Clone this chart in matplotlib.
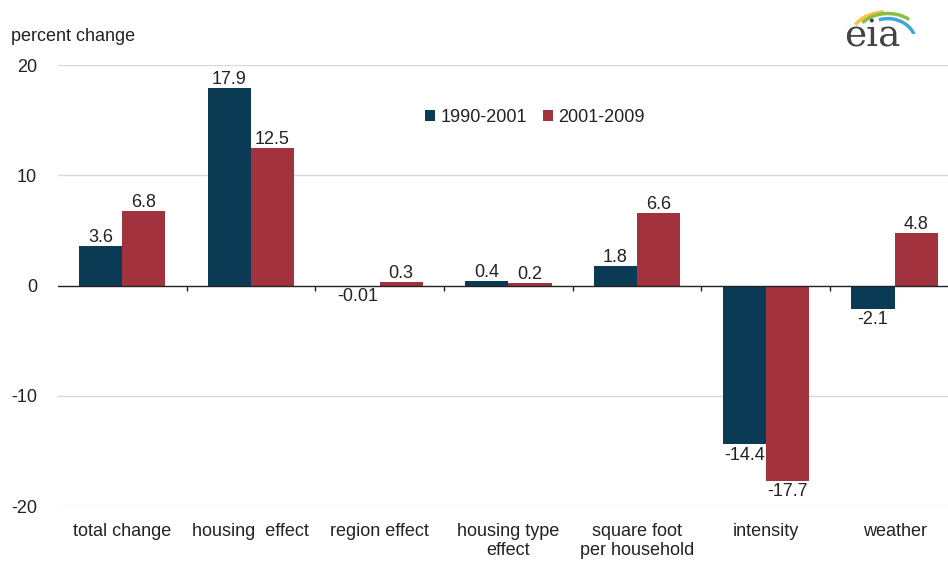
import numpy as np
import matplotlib.pyplot as plt
from matplotlib.patches import Arc

# data
categories = ['total change', 'housing  effect', 'region effect', 'housing type\neffect',
              'square foot\nper household', 'intensity', 'weather']
vals_1990_2001 = [3.6, 17.9, -0.01, 0.4, 1.8, -14.4, -2.1]
vals_2001_2009 = [6.8, 12.5, 0.3, 0.2, 6.6, -17.7, 4.8]
labels_1990_2001 = ['3.6', '17.9', '-0.01', '0.4', '1.8', '-14.4', '-2.1']
labels_2001_2009 = ['6.8', '12.5', '0.3', '0.2', '6.6', '-17.7', '4.8']
yticks = [-20, -10, 0, 10, 20]

blue = '#0b3a55'
red = '#a3323f'
txt = '#222222'
fs = 13

plt.rcParams['font.family'] = ['Liberation Sans', 'DejaVu Sans']

fig = plt.figure(figsize=(9.48, 5.63), dpi=100)
ax = fig.add_axes([0.061, 0.1012, 0.939, 0.7833])

x = np.arange(len(categories))
w = 0.335
b1 = ax.bar(x - w / 2, vals_1990_2001, w, color=blue, label='1990-2001', zorder=3)
b2 = ax.bar(x + w / 2, vals_2001_2009, w, color=red, label='2001-2009', zorder=3)

# value labels
for bars, labels in [(b1, labels_1990_2001), (b2, labels_2001_2009)]:
    for rect, lab in zip(bars, labels):
        h = rect.get_height()
        cx = rect.get_x() + rect.get_width() / 2
        if h >= 0:
            ax.annotate(lab, (cx, h), xytext=(0, 0), textcoords='offset points',
                        ha='center', va='bottom', fontsize=fs, color=txt)
        else:
            ax.annotate(lab, (cx, h), xytext=(0, -2), textcoords='offset points',
                        ha='center', va='top', fontsize=fs, color=txt)

ax.set_xlim(-0.5, 6.415)
ax.set_ylim(-20, 20)
ax.set_yticks(yticks)
ax.set_yticklabels([str(t) for t in yticks], fontsize=fs, color=txt)
for t in yticks:
    if t != 0:
        ax.axhline(t, color='#d9d9d9', lw=1, zorder=1)
ax.axhline(0, color='#222222', lw=1, zorder=4)

# small category-boundary ticks below the zero line
bounds = x[:-1] + 0.5
ax.vlines(bounds, -0.5, 0, color='#222222', lw=1, zorder=4)

ax.set_xticks(x)
ax.set_xticklabels(categories, fontsize=fs, color=txt, linespacing=1.2)
ax.tick_params(axis='x', length=0, pad=12)
ax.tick_params(axis='y', length=0, pad=15)
for s in ax.spines.values():
    s.set_visible(False)

fig.text(0.012, 0.935, 'percent change', fontsize=fs, color=txt, ha='left', va='center')

leg = ax.legend(loc='center', bbox_to_anchor=(0.536, 0.882), ncol=2, frameon=False,
                fontsize=fs, handlelength=0.55, handleheight=0.55, handletextpad=0.3,
                columnspacing=0.9)
for t in leg.get_texts():
    t.set_color(txt)

# eia logo
fig.text(0.92, 0.935, 'eia', fontsize=27, color='#444444', family='DejaVu Serif',
         ha='center', va='center')
logo = fig.add_axes([0.89, 0.94, 0.075, 0.06])
logo.set_xlim(0, 1)
logo.set_ylim(0, 1)
logo.axis('off')
logo.add_patch(Arc((0.62, 0.0), 1.0, 1.3, theta1=95, theta2=150, color='#f5c341', lw=2.5))
logo.add_patch(Arc((0.62, -0.1), 0.9, 1.4, theta1=60, theta2=130, color='#8cbf3f', lw=2.5))
logo.add_patch(Arc((0.62, -0.3), 0.8, 1.5, theta1=0, theta2=100, color='#3aa7dd', lw=2.5))

fig.savefig('out.png', dpi=100)
